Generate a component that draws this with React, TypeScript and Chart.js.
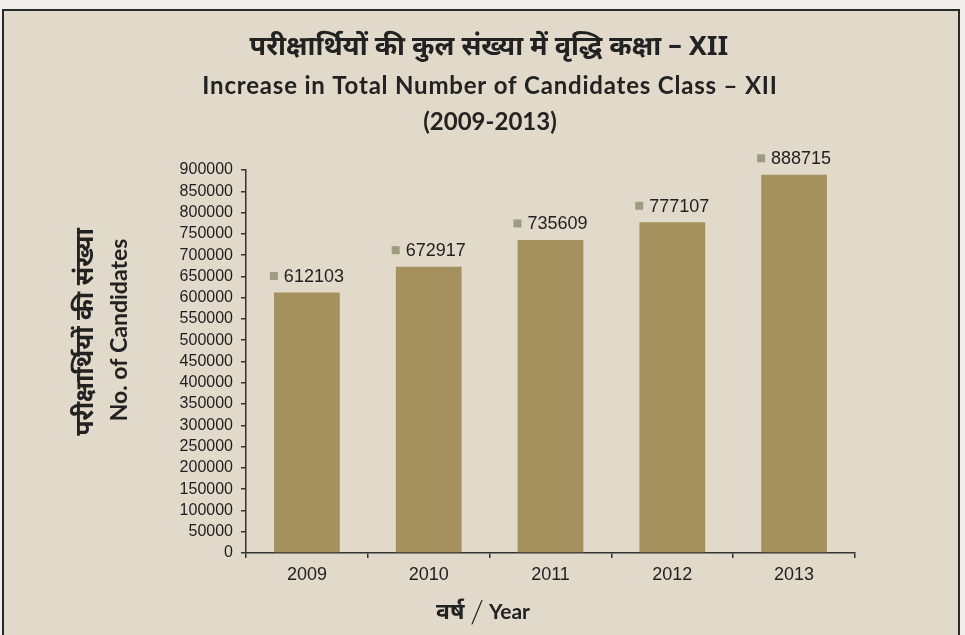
import React, { useEffect, useRef } from 'react';
import { Chart, registerables } from 'chart.js';

Chart.register(...registerables);

const categories = ['2009', '2010', '2011', '2012', '2013'];
const candidates = [612103, 672917, 735609, 777107, 888715];
const yMax = 900000;
const yStep = 50000;

const titleHindi = 'परीक्षार्थियों की कुल संख्या में वृद्धि कक्षा – XII';
const titleEnglish = 'Increase in Total Number of Candidates Class – XII';
const titleYears = '(2009-2013)';
const yTitleHindi = 'परीक्षार्थियों की संख्या';
const yTitleEnglish = 'No. of Candidates';
const xTitleHindi = 'वर्ष';
const xTitleSlash = '/';
const xTitleEnglish = 'Year';

const HINDI_FONT = '"Noto Sans Devanagari", "Lohit Devanagari", "Noto Sans", sans-serif';
const LATIN_FONT = 'Lato, "Open Sans", sans-serif';
const ARIAL = '"Liberation Sans", Arial, sans-serif';

const BAR_COLOR = '#a5915d';
const PANEL_BG = '#e1dacb';
const TEXT = '#222222';

const panelPlugin = {
  id: 'panel',
  beforeDraw(chart: any) {
    const ctx = chart.ctx;
    ctx.save();
    ctx.fillStyle = '#efeeea';
    ctx.fillRect(0, 0, chart.width, chart.height);
    ctx.fillStyle = PANEL_BG;
    ctx.fillRect(3, 10, 956, chart.height);
    ctx.strokeStyle = '#2a2a2a';
    ctx.lineWidth = 2;
    ctx.strokeRect(3, 10, 956, chart.height + 10);
    ctx.restore();
  },
};

const textPlugin = {
  id: 'texts',
  afterDraw(chart: any) {
    const ctx = chart.ctx;
    ctx.save();
    ctx.fillStyle = TEXT;
    ctx.textAlign = 'center';
    ctx.textBaseline = 'middle';
    // Titles
    ctx.font = `bold 27px ${HINDI_FONT}`;
    ctx.fillText(titleHindi, 489, 50);
    ctx.font = `bold 24px ${LATIN_FONT}`;
    (ctx as any).letterSpacing = '0.8px';
    ctx.fillText(titleEnglish, 490, 86);
    (ctx as any).letterSpacing = '0px';
    ctx.fillText(titleYears, 490, 122);

    // Y axis titles
    ctx.save();
    ctx.translate(88, 332);
    ctx.rotate(-Math.PI / 2);
    ctx.font = `bold 25px ${HINDI_FONT}`;
    ctx.fillText(yTitleHindi, 0, 0);
    ctx.restore();
    ctx.save();
    ctx.translate(120, 330);
    ctx.rotate(-Math.PI / 2);
    ctx.font = `bold 23px ${LATIN_FONT}`;
    ctx.fillText(yTitleEnglish, 0, 0);
    ctx.restore();

    // X axis title
    ctx.textAlign = 'left';
    ctx.font = `bold 23px ${HINDI_FONT}`;
    ctx.fillText(xTitleHindi, 436, 615);
    ctx.textAlign = 'center';
    ctx.font = `300 32px ${LATIN_FONT}`;
    ctx.fillText(xTitleSlash, 477, 613);
    ctx.textAlign = 'left';
    ctx.font = `bold 21px ${LATIN_FONT}`;
    ctx.fillText(xTitleEnglish, 489, 612);
    ctx.restore();
  },
  afterDatasetsDraw(chart: any) {
    const ctx = chart.ctx;
    const meta = chart.getDatasetMeta(0);
    ctx.save();
    ctx.font = `18px ${ARIAL}`;
    ctx.textBaseline = 'middle';
    ctx.textAlign = 'left';
    meta.data.forEach((el: any, i: number) => {
      const txt = String(chart.data.datasets[0].data[i]);
      const w = ctx.measureText(txt).width;
      const total = 8 + 6 + w;
      const sx = el.x - total / 2;
      const cy = el.y - 16.5;
      ctx.fillStyle = '#9e9c80';
      ctx.fillRect(sx, cy - 4, 8, 8);
      ctx.fillStyle = TEXT;
      ctx.fillText(txt, sx + 14, cy + 1);
    });
    ctx.restore();
  },
};

export default function App() {
  const ref = useRef<HTMLCanvasElement>(null);
  useEffect(() => {
    if (!ref.current) return;
    const chart = new Chart(ref.current, {
      type: 'bar',
      data: {
        labels: categories,
        datasets: [
          {
            label: 'No. of Candidates',
            data: candidates,
            backgroundColor: BAR_COLOR,
            borderWidth: 0,
            barPercentage: 0.54,
            categoryPercentage: 1,
          },
        ],
      },
      options: {
        responsive: false,
        animation: false,
        devicePixelRatio: 1,
        layout: { padding: { left: 100, top: 170, right: 110, bottom: 42 } },
        plugins: {
          legend: { display: false },
          tooltip: { enabled: false },
          title: { display: false },
        },
        scales: {
          x: {
            afterFit(scale: any) {
              scale.height = 40;
            },
            grid: {
              offset: true,
              drawOnChartArea: false,
              drawTicks: true,
              tickLength: 5,
              color: '#333333',
              lineWidth: 1.5,
            },
            border: { display: true, color: '#333333', width: 1.5 },
            ticks: {
              color: TEXT,
              font: { size: 18, family: ARIAL },
              padding: 6,
            },
          },
          y: {
            min: 0,
            max: yMax,
            afterFit(scale: any) {
              scale.width = 146;
            },
            grid: {
              drawOnChartArea: false,
              drawTicks: true,
              tickLength: 5,
              color: '#333333',
              lineWidth: 1.5,
            },
            border: { display: true, color: '#333333', width: 1.5 },
            ticks: {
              stepSize: yStep,
              autoSkip: false,
              color: '#1e1e1e',
              font: { size: 16, family: ARIAL },
              padding: 8,
              callback: (v: any) => String(v),
            },
          },
        },
      },
      plugins: [panelPlugin, textPlugin],
    });
    return () => chart.destroy();
  }, []);
  return (
    <div style={{ position: 'fixed', left: 0, top: 0, width: 965, height: 635 }}>
      <canvas ref={ref} width={965} height={635} />
    </div>
  );
}
